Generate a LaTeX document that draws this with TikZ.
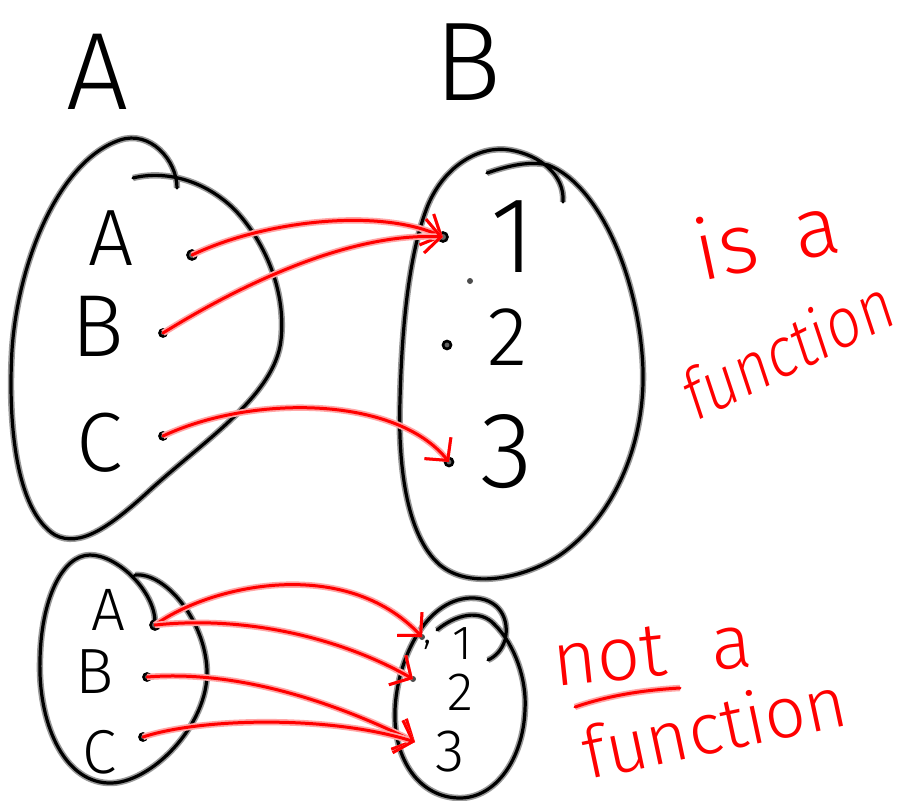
\documentclass[tikz,border=0pt]{standalone}
\usepackage{fontspec}
\IfFontExistsTF{Fira Sans Light}{\setmainfont{Fira Sans Light}}{\setmainfont{Fira Sans}}
\usetikzlibrary{arrows.meta}
\begin{document}
\begin{tikzpicture}[x=1pt,y=-1pt,
  pen/.style={draw=black, line width=3.2pt, line cap=round, line join=round,
    preaction={draw=black!40, line width=6.4pt}},
  rpen/.style={draw=red, line width=3pt, line cap=round, line join=round,
    preaction={draw=red!35, line width=6.4pt}},
  tip/.style={-{Straight Barb[length=16pt,width=34pt,line width=3pt]}},
  dotn/.style={circle, draw=black, fill=black!60, line width=2.6pt, inner sep=0pt, minimum size=9pt},
  sdot/.style={circle, fill=black!70, inner sep=0pt, minimum size=6pt},
  blk/.style={text=black, inner sep=0pt},
  rtx/.style={text=red, inner sep=0pt}]
\useasboundingbox (0,0) rectangle (906,801);
\fill[white] (0,0) rectangle (906,801);

% ---------- titles ----------
\node[blk, font=\fontsize{110}{110}\selectfont] (tA) at (98,72) {A};
\node[blk, font=\fontsize{112}{112}\selectfont] (tB) at (468,62) {B};

% ---------- top-left blob ----------
\draw[pen] (133,178) .. controls (165,170) and (205,180) .. (235,210)
  .. controls (268,245) and (286,295) .. (281,340)
  .. controls (275,395) and (205,440) .. (150,490)
  .. controls (110,527) and (80,548) .. (55,535)
  .. controls (15,510) and (8,420) .. (12,350)
  .. controls (18,260) and (60,160) .. (120,140)
  .. controls (150,130) and (177,160) .. (177,188);
\node[blk, font=\fontsize{80}{80}\selectfont] (lA) at (111,238) {A};
\node[blk, font=\fontsize{88}{88}\selectfont] (lB) at (98,326) {B};
\node[blk, font=\fontsize{84}{84}\selectfont] (lC) at (100,443) {C};
\node[dotn] (pA) at (192,255) {};
\node[dotn, minimum size=7pt] (pB) at (163,333) {};
\node[dotn, minimum size=7pt] (pC) at (163,436) {};

% ---------- top-right blob ----------
\draw[pen] (487,173) .. controls (510,165) and (530,161) .. (548,165)
  .. controls (600,185) and (640,280) .. (643,370)
  .. controls (645,450) and (610,520) .. (560,555)
  .. controls (525,578) and (470,590) .. (440,565)
  .. controls (405,535) and (398,460) .. (400,400)
  .. controls (402,320) and (410,250) .. (428,205)
  .. controls (445,165) and (480,145) .. (510,150)
  .. controls (540,155) and (565,175) .. (563,202);
\node[blk, font=\fontsize{108}{108}\selectfont] (n1) at (513,237) {1};
\node[blk, font=\fontsize{84}{84}\selectfont] (n2) at (508,337) {2};
\node[blk, font=\fontsize{108}{108}\selectfont] (n3) at (507,452) {3};
\node[dotn] (q1) at (443,237) {};
\node[sdot] (qs) at (470,281) {};
\node[dotn, minimum size=8pt] (q2) at (447,345) {};
\node[dotn, minimum size=8pt] (q3) at (449,462) {};

% ---------- top arrows ----------
\draw[rpen, tip] (pA.center) .. controls (265,220) and (380,208) .. (q1.center);
\draw[rpen, tip] (pB.center) .. controls (240,285) and (350,232) .. (q1.center);
\draw[rpen, tip] (pC.center) .. controls (250,395) and (395,395) .. (q3.center);

% ---------- is a function ----------
\node[rtx, font=\fontsize{84}{84}\selectfont, rotate=12] (isa) at (766,236) {is\hspace{0.45em}a};
\node[rtx, font=\fontsize{72}{72}\selectfont, xscale=0.82, rotate=22] (fun1) at (788,348) {function};

% ---------- bottom-left blob ----------
\draw[pen] (135,575) .. controls (165,572) and (205,620) .. (207,670)
  .. controls (209,725) and (150,785) .. (108,783)
  .. controls (62,781) and (38,720) .. (40,660)
  .. controls (41,600) and (62,555) .. (90,555)
  .. controls (118,555) and (155,592) .. (155,622);
\node[blk, font=\fontsize{60}{60}\selectfont] (bA) at (108,610) {A};
\node[blk, font=\fontsize{64}{64}\selectfont] (bB) at (95,672) {B};
\node[blk, font=\fontsize{62}{62}\selectfont] (bC) at (100,752) {C};
\node[dotn] (sA) at (155,625) {};
\node[dotn, minimum size=7pt] (sB) at (147,677) {};
\node[dotn, minimum size=7pt] (sC) at (143,737) {};

% ---------- bottom-right blob ----------
\draw[pen] (437,630) .. controls (455,615) and (480,608) .. (495,625)
  .. controls (515,645) and (527,680) .. (525,710)
  .. controls (523,760) and (495,798) .. (460,798)
  .. controls (420,798) and (393,760) .. (395,710)
  .. controls (397,660) and (425,600) .. (470,598)
  .. controls (500,597) and (510,620) .. (505,640)
  .. controls (502,650) and (495,657) .. (488,660);
\node[blk, font=\fontsize{48}{48}\selectfont] (m1) at (462,644) {1};
\node[blk, font=\fontsize{54}{54}\selectfont] (m2) at (460,692) {2};
\node[blk, font=\fontsize{60}{60}\selectfont] (m3) at (450,752) {3};
\node[blk, font=\fontsize{40}{40}\selectfont] (mc) at (428,645) {,};
\node[sdot] (r1) at (422,637) {};
\node[sdot] (r2) at (413,679) {};
\coordinate (r3) at (415,742);

% ---------- bottom arrows ----------
\draw[rpen, tip] (sA.center) .. controls (210,585) and (345,555) .. (r1.center);
\draw[rpen, tip] (sA.center) .. controls (250,615) and (345,640) .. (r2.center);
\draw[rpen, tip] (sB.center) .. controls (235,670) and (330,700) .. (r3);
\draw[rpen, tip] (sC.center) .. controls (200,718) and (330,715) .. (r3);

% ---------- not a function ----------
\node[rtx, font=\fontsize{76}{76}\selectfont, rotate=6] (nota) at (652,652) {not\hspace{0.6em}a};
\draw[rpen] (575,707) .. controls (610,695) and (645,690) .. (680,688);
\node[rtx, font=\fontsize{72}{72}\selectfont, rotate=12] (fun2) at (714,726) {function};
\end{tikzpicture}
\end{document}
